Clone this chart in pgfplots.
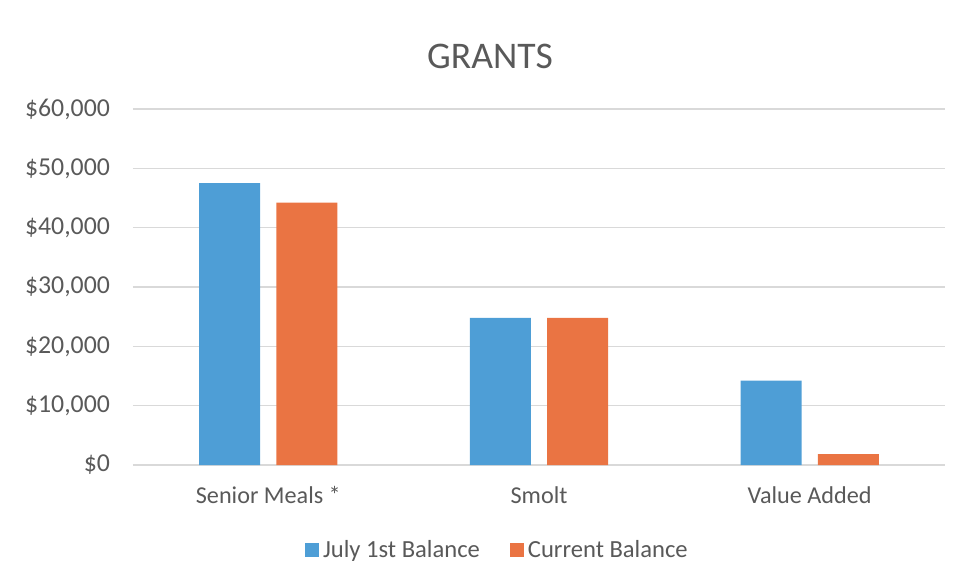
\documentclass[border=0pt]{standalone}
\usepackage{pgfplots}
\pgfplotsset{compat=1.18}
\usepackage{fontspec}
\setmainfont{Carlito}
\definecolor{txt}{HTML}{595959}
\definecolor{gridc}{HTML}{D9D9D9}
\definecolor{jul}{HTML}{4E9ED6}
\definecolor{cur}{HTML}{EA7443}
\begin{document}
\begin{tikzpicture}
\path[use as bounding box] (0,0) rectangle (480pt,292pt);
\node[text=txt, font=\fontsize{18.8}{21}\selectfont] at (245pt,264pt) {GRANTS};
\begin{axis}[
    at={(66.5pt,59.5pt)}, anchor=south west,
    scale only axis,
    width=406pt, height=178pt,
    xmin=-0.5, xmax=2.5,
    ymin=0, ymax=60000,
    ytick={0,10000,20000,30000,40000,50000,60000},
    xtick={0,1,2},
    xticklabels={Senior Meals *, Smolt, Value Added},
    xtick style={draw=none}, ytick style={draw=none},
    axis line style={draw=none},
    ymajorgrids, grid style={gridc, line width=0.6pt},
    /pgf/number format/assume math mode=true,
    /pgf/number format/1000 sep={,},
    scaled y ticks=false,
    yticklabel={\$\pgfmathprintnumber{\tick}},
    yticklabel style={text=txt, font=\fontsize{12.9}{14}\selectfont, xshift=-8pt},
    xticklabel style={text=txt, font=\fontsize{12.1}{14}\selectfont, yshift=-3pt},
    ybar, bar width=30.5pt,
    legend style={at={(0.45,-0.239)}, anchor=center, draw=none,
        legend columns=2, font=\fontsize{12.3}{14}\selectfont, text=txt,
        /tikz/every even column/.append style={column sep=13pt}},
    legend image code/.code={\fill[#1] (0pt,-3.5pt) rectangle (7pt,3.5pt);},
    clip=false,
]
\draw[gridc, line width=0.8pt] (axis cs:-0.5,0) -- (axis cs:2.5,0);
\addplot[fill=jul, draw=none, bar shift=-19.3pt] coordinates {(0,47500) (1,24800) (2,14200)};
\addlegendentry{July 1st Balance}
\addplot[fill=cur, draw=none, bar shift=19.3pt] coordinates {(0,44200) (1,24800) (2,1850)};
\addlegendentry{Current Balance}
\end{axis}
\end{tikzpicture}
\end{document}
